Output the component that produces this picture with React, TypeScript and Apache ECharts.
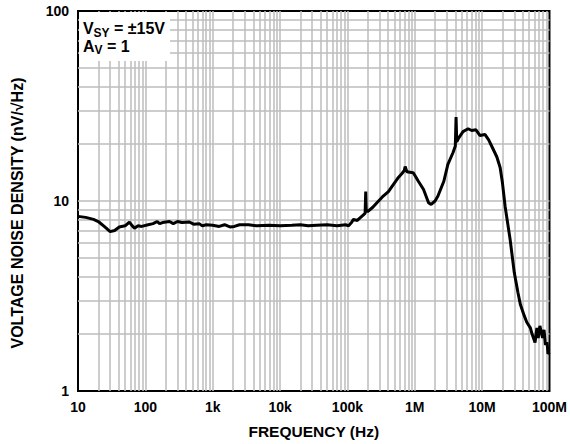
import React, { useEffect, useRef } from "react";
import * as echarts from "echarts";

const freqHz: number[] = [
  10, 13, 17, 20, 25, 30, 35, 41, 50, 58, 64, 69, 78, 88, 110, 130, 150, 163, 180, 228,
  260, 300, 350, 450, 520, 630, 700, 800, 1000, 1250, 1500, 1800, 2100, 2500, 3400, 4500,
  6800, 10000, 15000, 20000, 26000, 35000, 50000, 70000, 94000, 104000, 115000, 123000,
  140000, 157000, 176000, 183000, 187000, 190000, 200000, 240000, 274000, 330000, 406000,
  480000, 571000, 650000, 700000, 720000, 760000, 800000, 950000, 1130000, 1350000,
  1600000, 1750000, 2000000, 2200000, 2700000, 3100000, 3700000, 4000000, 4100000,
  4200000, 4500000, 5200000, 6200000, 7000000, 8100000, 9300000, 11000000, 12500000,
  14000000, 16500000, 18500000, 20000000, 22000000, 26000000, 30000000, 34000000,
  37000000, 42000000, 46000000, 52000000, 55000000, 61000000, 65000000, 68000000,
  72000000, 79000000, 83000000, 87000000, 92000000, 95000000, 100000000,
];
const noiseDensity: number[] = [
  8.3, 8.2, 8.0, 7.8, 7.3, 6.9, 7.0, 7.3, 7.4, 7.75, 7.4, 7.2, 7.4, 7.35, 7.5, 7.6, 7.8, 7.6, 7.7, 7.8,
  7.6, 7.8, 7.7, 7.75, 7.55, 7.6, 7.4, 7.5, 7.45, 7.35, 7.5, 7.3, 7.35, 7.5, 7.5, 7.4,
  7.45, 7.4, 7.45, 7.5, 7.4, 7.45, 7.5, 7.4, 7.5, 7.4, 7.7, 8.0,
  7.9, 8.2, 8.5, 8.6, 11.2, 8.9, 8.8, 9.3, 9.8, 10.5, 11.2,
  12.2, 13.3, 14.0, 14.5, 15.2, 14.3, 14.2, 14.1, 12.7, 11.5,
  9.8, 9.6, 10.0, 10.6, 12.7, 15.6, 18.0, 19.5, 27.7,
  20.5, 21.5, 23.2, 24.0, 23.5, 23.7, 22.1, 22.4, 21.0,
  19.3, 17.1, 15.0, 12.5, 9.3, 6.3, 4.2, 3.3,
  2.85, 2.5, 2.3, 2.15, 2.0, 1.8, 2.15, 1.9,
  2.2, 1.9, 2.1, 1.75, 1.8, 1.57, 1.6,
];
const xTickLabels: string[] = ["10", "100", "1k", "10k", "100k", "1M", "10M", "100M"];
const yTickLabels: string[] = ["1", "10", "100"];

const FONT = "'Liberation Sans', Arial, sans-serif";

export default function App() {
  const ref = useRef<HTMLDivElement>(null);
  useEffect(() => {
    if (!ref.current) return;
    const chart = echarts.init(ref.current, undefined, { renderer: "svg" });
    const gridX: number[] = [];
    for (let d = 1; d < 8; d++) for (let m = 1; m <= 9; m++) if (!(d === 1 && m === 1)) gridX.push(m * Math.pow(10, d));
    const gridY: number[] = [];
    for (let d = 0; d < 2; d++) for (let m = 1; m <= 9; m++) if (!(d === 0 && m === 1)) gridY.push(m * Math.pow(10, d));
    const gridLine = { color: "#bdbdbd", width: 1.5, type: "solid" as const };
    const txt = (text: string, x: number, y: number, size: number) => ({
      type: "text", x, y, z: 11,
      style: { text, fontFamily: FONT, fontWeight: "bold", fontSize: size, fill: "#000", align: "left", verticalAlign: "top" },
    });
    chart.setOption({
      animation: false,
      grid: { left: 78, right: 18, top: 11, bottom: 52, show: true, borderColor: "#000", borderWidth: 2, backgroundColor: "#fff" },
      xAxis: {
        type: "log", logBase: 10, min: 10, max: 1e8, interval: 1,
        name: "FREQUENCY (Hz)", nameLocation: "middle", nameGap: 32,
        nameTextStyle: { fontFamily: FONT, fontWeight: "bold", fontSize: 15.5, color: "#000" },
        axisLine: { show: false }, axisTick: { show: false }, splitLine: { show: false },
        axisLabel: {
          fontFamily: FONT, fontWeight: "bold", fontSize: 14, color: "#000", margin: 9,
          formatter: (v: number) => xTickLabels[Math.round(Math.log10(v)) - 1] ?? "",
        },
      },
      yAxis: {
        type: "log", logBase: 10, min: 1, max: 100, interval: 1,
        axisLine: { show: false }, axisTick: { show: false }, splitLine: { show: false },
        axisLabel: {
          fontFamily: FONT, fontWeight: "bold", fontSize: 14, color: "#000", margin: 9,
          formatter: (v: number) => yTickLabels[Math.round(Math.log10(v))] ?? "",
        },
      },
      series: [
        {
          type: "line",
          data: freqHz.map((f, i) => [f, noiseDensity[i]]),
          showSymbol: false,
          smooth: false,
          lineStyle: { color: "#000", width: 3 },
          z: 5,
          markLine: {
            silent: true, symbol: "none", label: { show: false },
            lineStyle: gridLine,
            data: [...gridX.map((v) => ({ xAxis: v })), ...gridY.map((v) => ({ yAxis: v }))],
          },
        },
      ],
      graphic: [
        { type: "rect", z: 10, shape: { x: 79, y: 12, width: 91, height: 49 }, style: { fill: "#fff" } },
        txt("V", 83, 20, 16),
        txt("SY", 93.5, 26.5, 12),
        txt(" = ±15V", 109.5, 20, 16),
        txt("A", 83, 38, 16),
        txt("V", 94.5, 44, 12),
        txt(" = 1", 102.5, 38, 16),
        {
          type: "text", x: 17, y: 213, rotation: Math.PI / 2, z: 11,
          style: {
            text: "VOLTAGE NOISE DENSITY (nV/√Hz)", fontFamily: FONT, fontWeight: "bold", fontSize: 16,
            fill: "#000", align: "center", verticalAlign: "middle",
          },
        },
      ],
    });
    return () => chart.dispose();
  }, []);
  return <div ref={ref} style={{ width: 570, height: 444, position: "absolute", left: 0, top: 0 }} />;
}
